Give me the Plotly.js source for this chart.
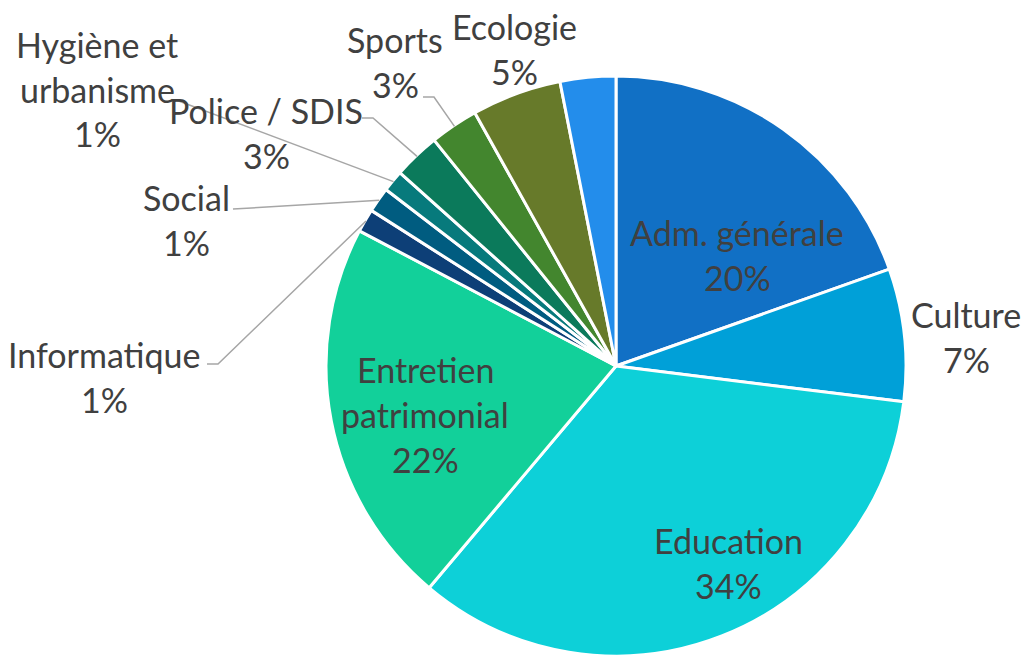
<!DOCTYPE html>
<html>
<head>
<meta charset="utf-8">
<script src="https://cdn.plot.ly/plotly-3.0.1.min.js"></script>
<style>
  html, body { margin: 0; padding: 0; background: #ffffff; }
  #chart { width: 1024px; height: 656px; }
</style>
</head>
<body>
<div id="chart"></div>
<script>
// ---- Data ----
const categories = ['Adm. générale', 'Culture', 'Education', 'Entretien patrimonial',
  'Informatique', 'Social', 'Hygiène et urbanisme', 'Police / SDIS', 'Sports', 'Ecologie', 'Autres'];
const values = [19.6, 7.4, 34.2, 21.6, 1.3, 1.4, 1.2, 2.6, 2.7, 5.0, 3.1];
const colors = ['#1170C5', '#00A0D8', '#0DD0D8', '#12D09A', '#0D3F77', '#005C80',
  '#077A7C', '#0B7A5B', '#43862E', '#677A2A', '#238DEB'];

// ---- Layout geometry (pixels) ----
const W = 1024, H = 656;
const cx = 616, cy = 366, R = 290;
const FONT = 'Lato, Carlito, Calibri, "Noto Sans", sans-serif';
const TXT = '#404040';
const LINE_H = 45;

// label placement: center x, first-line center y, line breaks
const labelLayout = {
  'Adm. générale':         {x: 737, y: 232, lines: ['Adm. générale']},
  'Culture':               {x: 966, y: 314, lines: ['Culture']},
  'Education':             {x: 728, y: 540, lines: ['Education']},
  'Entretien patrimonial': {x: 425, y: 369, lines: ['Entretien', 'patrimonial']},
  'Informatique':          {x: 104, y: 354, lines: ['Informatique']},
  'Social':                {x: 186, y: 197, lines: ['Social']},
  'Hygiène et urbanisme':  {x: 97,  y: 44,  lines: ['Hygiène et', 'urbanisme']},
  'Police / SDIS':         {x: 266, y: 110, lines: ['Police / SDIS']},
  'Sports':                {x: 395, y: 39,  lines: ['Sports']},
  'Ecologie':              {x: 514, y: 27,  lines: ['Ecologie']}
};
// leader line start points (near the label), end computed from slice angle
const leaderStart = {
  'Informatique':         [[207, 364], [218, 364]],
  'Social':               [[233, 209]],
  'Hygiène et urbanisme': [[176, 100]],
  'Police / SDIS':        [[362, 118], [373, 118]],
  'Sports':               [[423, 97], [434, 97]]
};

const px = x => x / W;
const py = y => 1 - y / H;

const total = values.reduce((a, b) => a + b, 0);
const annotations = [];
const shapes = [];
let cum = 0;
categories.forEach((cat, i) => {
  const v = values[i];
  const mid = 2 * Math.PI * (cum + v / 2) / total;
  cum += v;
  const lay = labelLayout[cat];
  if (!lay) return;
  const pct = Math.round(v / total * 100) + '%';
  const lines = lay.lines.concat([pct]);
  lines.forEach((t, k) => {
    annotations.push({
      xref: 'paper', yref: 'paper',
      x: px(lay.x), y: py(lay.y + k * LINE_H),
      xanchor: 'center', yanchor: 'middle',
      text: t, showarrow: false,
      font: {family: FONT, size: 34, color: TXT}
    });
  });
  const st = leaderStart[cat];
  if (st) {
    const ex = cx + (R - 1) * Math.sin(mid);
    const ey = cy - (R - 1) * Math.cos(mid);
    const pts = st.concat([[ex, ey]]);
    const path = pts.map((p, k) => (k ? 'L' : 'M') + px(p[0]).toFixed(5) + ',' + py(p[1]).toFixed(5)).join(' ');
    shapes.push({
      type: 'path', xref: 'paper', yref: 'paper', path: path,
      line: {color: '#A6A6A6', width: 1.5}
    });
  }
});

const trace = {
  type: 'pie',
  labels: categories,
  values: values,
  sort: false,
  direction: 'clockwise',
  rotation: 0,
  textinfo: 'none',
  hoverinfo: 'label+percent',
  marker: {colors: colors, line: {color: '#ffffff', width: 3}},
  domain: {x: [px(cx - R), px(cx + R)], y: [py(cy + R), py(cy - R)]},
  showlegend: false
};

Plotly.newPlot('chart', [trace], {
  width: W, height: H,
  margin: {l: 0, r: 0, t: 0, b: 0},
  paper_bgcolor: '#ffffff',
  showlegend: false,
  annotations: annotations,
  shapes: shapes
}, {displayModeBar: false, staticPlot: true});
</script>
</body>
</html>
